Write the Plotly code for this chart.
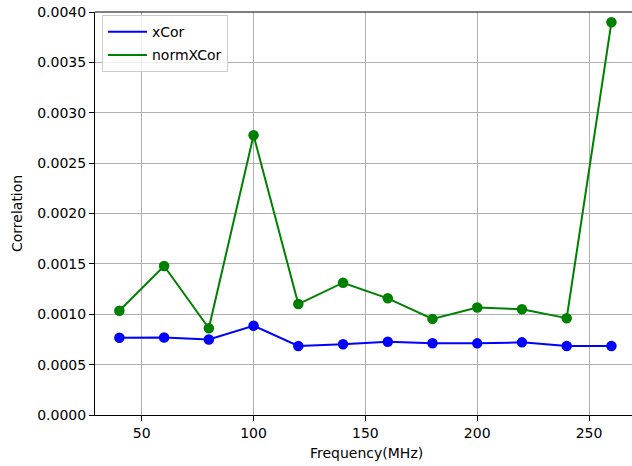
import plotly.graph_objects as go

freq = [40, 60, 80, 100, 120, 140, 160, 180, 200, 220, 240, 260]
xcor = [0.000767, 0.000769, 0.000749, 0.000886, 0.000685, 0.000702, 0.000727,
        0.000712, 0.000711, 0.000721, 0.000685, 0.000685]
norm_xcor = [0.001035, 0.001479, 0.000861, 0.002776, 0.001101, 0.001313, 0.001158,
             0.000954, 0.001067, 0.001049, 0.000961, 0.003898]
yticks = [0.0, 0.0005, 0.001, 0.0015, 0.002, 0.0025, 0.003, 0.0035, 0.004]
xticks = [50, 100, 150, 200, 250]

BLUE = "#0000ff"
GREEN = "#008000"
FONT = "DejaVu Sans"
FS = 14

fig = go.Figure()
for name, vals, col in [("xCor", xcor, BLUE), ("normXCor", norm_xcor, GREEN)]:
    fig.add_trace(go.Scatter(x=freq, y=vals, mode="lines", name=name, legendgroup=name,
                             line=dict(color=col, width=2), cliponaxis=False))
for vals, col in [(xcor, BLUE), (norm_xcor, GREEN)]:
    fig.add_trace(go.Scatter(x=freq, y=vals, mode="markers", showlegend=False,
                             marker=dict(color=col, size=10.5, line=dict(width=0)),
                             cliponaxis=False))

axis_common = dict(
    showgrid=True, gridcolor="#b0b0b0", gridwidth=1.1,
    showline=True, linecolor="black", linewidth=1.1,
    ticks="outside", ticklen=5, tickwidth=1.1, tickcolor="black",
    tickfont=dict(family=FONT, size=FS, color="black"),
    zeroline=False,
)

fig.update_layout(
    width=632, height=466,
    margin=dict(l=95, r=0, t=12, b=51),
    paper_bgcolor="white", plot_bgcolor="white",
    font=dict(family=FONT, size=FS, color="black"),
    xaxis=dict(range=[29.1, 269.2], tickvals=xticks, **axis_common),
    yaxis=dict(range=[0, 0.004], tickvals=yticks, tickformat=".4f", **axis_common),
    legend=dict(x=0.013, y=0.992, xanchor="left", yanchor="top",
                bgcolor="rgba(255,255,255,0.8)", bordercolor="#cccccc", borderwidth=1,
                font=dict(family=FONT, size=FS, color="black"),
                itemwidth=39, traceorder="grouped", tracegroupgap=2),
    showlegend=True,
)

# top spine
fig.add_shape(type="line", xref="paper", yref="paper", x0=0, x1=1, y0=1, y1=1,
              line=dict(color="black", width=1.1))

fig.add_annotation(text="Frequency(MHz)", xref="paper", yref="paper",
                   x=(366 - 95) / 537, y=(415 - 453) / 403, showarrow=False,
                   xanchor="center", yanchor="middle",
                   font=dict(family=FONT, size=FS, color="black"))
fig.add_annotation(text="Correlation", xref="paper", yref="paper",
                   x=(17 - 95) / 537, y=(415 - 213) / 403, showarrow=False,
                   xanchor="center", yanchor="middle", textangle=-90,
                   font=dict(family=FONT, size=FS, color="black"))

fig.write_html("out.html", config={"displayModeBar": False},
               post_script="document.body.style.margin='0';")
